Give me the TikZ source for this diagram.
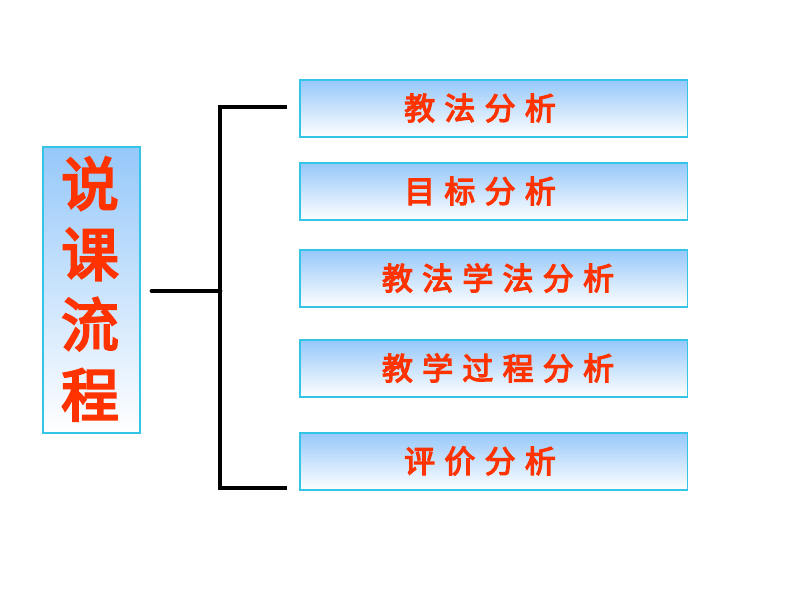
\documentclass[tikz,border=0pt]{standalone}
\usepackage{fontspec}
\newfontfamily\cjk{Noto Sans CJK SC}[FakeBold=4]
\newfontfamily\cjkwide{Noto Sans CJK SC}[FakeBold=4,LetterSpace=30]
\definecolor{edgecyan}{RGB}{51,196,230}
\definecolor{topblue}{RGB}{150,200,250}
\definecolor{redtext}{RGB}{255,51,0}
\tikzset{
  stepbox/.style={draw=edgecyan, line width=0.8pt, top color=topblue, bottom color=white,
    minimum width=9.675cm, minimum height=1.425cm, inner sep=0pt},
  steptext/.style={text=redtext, font=\cjkwide\fontsize{22}{22}\selectfont, inner sep=0pt},
  bracket/.style={line width=3.5pt, line cap=round}
}
\begin{document}
\begin{tikzpicture}[x=0.025cm, y=-0.025cm]
     \useasboundingbox (0,0) rectangle (800,600);
     % left title box
     \node[draw=edgecyan, line width=0.8pt, top color=topblue, bottom color=white,
       minimum width=2.425cm, minimum height=7.15cm, inner sep=0pt] (flow) at (91.5,290) {};
     \node[text=redtext, font=\cjk\fontsize{41}{50}\selectfont, align=center] (title) at (90,289) {说\\课\\流\\程};

     % right boxes
     \node[stepbox] (b1) at (493.5,108.5) {};
     \node[stepbox] (b2) at (493.5,191.5) {};
     \node[stepbox] (b3) at (493.5,278.5) {};
     \node[stepbox] (b4) at (493.5,368.5) {};
     \node[stepbox] (b5) at (493.5,461.5) {};
     \node[steptext] (t1) at (480,108) {教法分析};
     \node[steptext] (t2) at (480,191) {目标分析};
     \node[steptext] (t3) at (498,278) {教法学法分析};
     \node[steptext] (t4) at (498,368) {教学过程分析};
     \node[steptext] (t5) at (480,461) {评价分析};

     % bracket
     \coordinate (stem) at (152,291);
     \coordinate (fork) at (220,291);
     \coordinate (armtop) at (287,107);
     \coordinate (armbot) at (287,488);
     \draw[bracket] (stem) -- (fork);
     \draw[bracket, line cap=butt] (armtop) -- (armtop -| fork) -- (armbot -| fork) -- (armbot);
\end{tikzpicture}
\end{document}
